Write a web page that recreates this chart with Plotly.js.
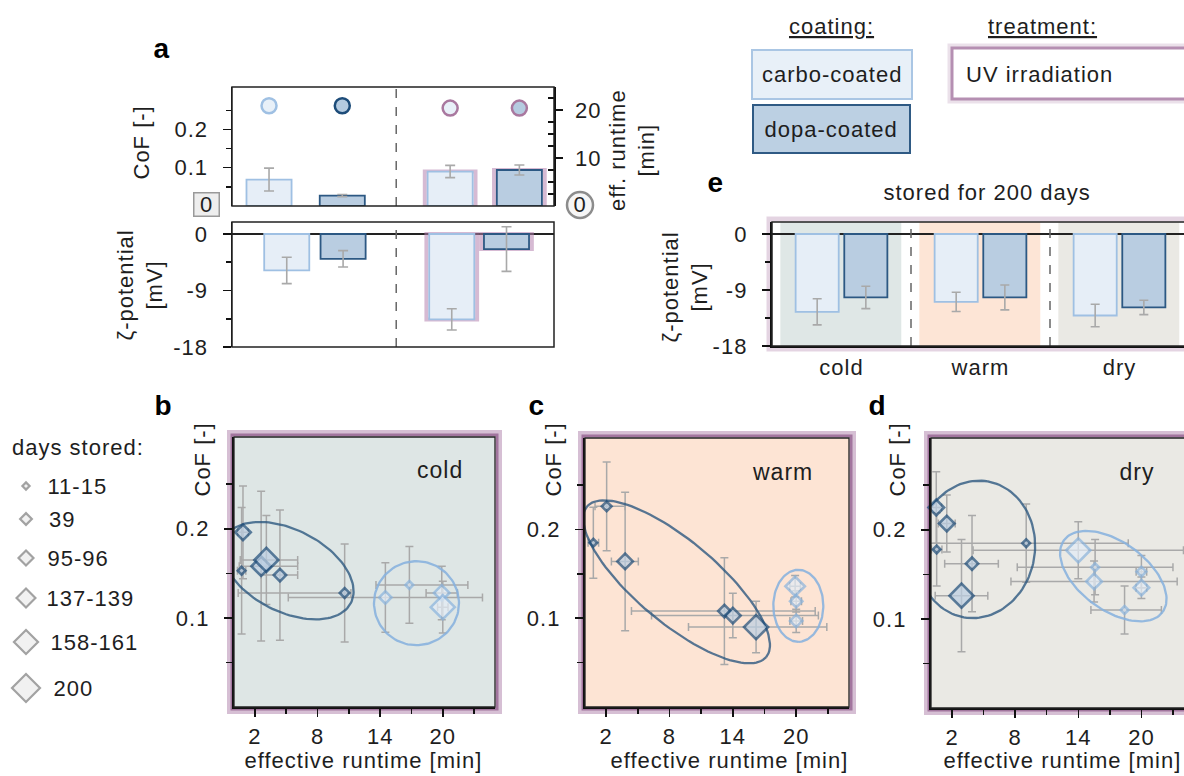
<!DOCTYPE html>
<html><head><meta charset="utf-8">
<script src="https://cdn.plot.ly/plotly-3.0.1.min.js"></script>
<style>
html,body{margin:0;padding:0;overflow:hidden;background:#fff;}
#chart{width:1240px;height:776px;}
.main-svg text{letter-spacing:1px;}
</style></head><body><div id="chart"></div>
<script>
// ================= DATA =================
// Panel a (fresh samples)
const aGroups   = ['carbo-coated', 'dopa-coated', 'carbo-coated + UV', 'dopa-coated + UV'];
const aCoating  = ['carbo', 'dopa', 'carbo', 'dopa'];
const aUV       = [0, 0, 1, 1];
const aCoF      = [0.069, 0.027, 0.090, 0.094];
const aCoFErr   = [0.030, 0.003, 0.016, 0.013];
const aRuntime  = [20.9, 20.9, 20.4, 20.4];
const aZeta     = [-5.8, -3.95, -13.6, -2.4];
const aZetaErr  = [2.1, 1.3, 1.7, 3.55];

// Panel e (stored for 200 days)
const eConditions = ['cold', 'warm', 'dry'];
const eCarboZeta  = [-12.5, -10.9, -13.1];
const eCarboErr   = [2.1, 1.55, 1.8];
const eDopaZeta   = [-10.2, -10.2, -11.8];
const eDopaErr    = [1.8, 2.0, 1.15];

// days stored categories
const daysLabels = ['11-15', '39', '95-96', '137-139', '158-161', '200'];

// Panel b (cold)
const coldDopaRt         = [0.73, 10.6, 4.4, 0.86, 2.6, 3.1];
const coldDopaCoF        = [0.153, 0.128, 0.148, 0.196, 0.158, 0.165];
const coldDopaRtErrPlus  = [0.4, 0.6, 1.7, 0.5, 3.5, 3.0];
const coldDopaRtErrMinus = [0.4, 10.2, 1.8, 0.5, 2.1, 2.5];
const coldDopaCoFErr     = [0.071, 0.055, 0.073, 0.052, 0.084, 0.050];
const coldDopaDay        = [0, 1, 2, 3, 4, 5];
const coldCarboRt         = [16.8, 14.5, 19.9, 20.0];
const coldCarboCoF        = [0.137, 0.123, 0.128, 0.112];
const coldCarboRtErrPlus  = [5.6, 9.3, 1.5, 0.5];
const coldCarboRtErrMinus = [3.2, 9.3, 1.5, 0.5];
const coldCarboCoFErr     = [0.043, 0.039, 0.030, 0.029];
const coldCarboDay        = [0, 2, 3, 5];

// Panel c (warm)
const warmDopaRt         = [0.79, 2.05, 3.8, 13.2, 14.0, 16.2];
const warmDopaCoF        = [0.185, 0.226, 0.164, 0.108, 0.103, 0.090];
const warmDopaRtErrPlus  = [0.5, 1.75, 1.25, 8.6, 8.1, 6.7];
const warmDopaRtErrMinus = [0.5, 1.1, 1.3, 8.8, 7.7, 6.4];
const warmDopaCoFErr     = [0.040, 0.050, 0.078, 0.060, 0.025, 0.029];
const warmDopaDay        = [0, 1, 3, 2, 3, 5];
const warmCarboRt         = [19.9, 20.0, 20.0];
const warmCarboCoF        = [0.136, 0.119, 0.097];
const warmCarboRtErrPlus  = [0.5, 0.5, 0.6];
const warmCarboRtErrMinus = [0.5, 0.5, 0.6];
const warmCarboCoFErr     = [0.012, 0.012, 0.013];
const warmCarboDay        = [4, 2, 2];

// Panel d (dry)
const dryDopaRt         = [0.5, 1.5, 0.54, 2.9, 3.9, 9.05];
const dryDopaCoF        = [0.225, 0.207, 0.178, 0.126, 0.162, 0.185];
const dryDopaRtErrPlus  = [0.5, 0.8, 0.5, 2.5, 2.5, 9.7];
const dryDopaRtErrMinus = [0.5, 0.8, 0.5, 2.5, 2.6, 9.5];
const dryDopaCoFErr     = [0.040, 0.032, 0.041, 0.063, 0.054, 0.044];
const dryDopaDay        = [3, 3, 0, 5, 2, 0];
const dryCarboRt         = [14.0, 15.6, 15.5, 20.0, 20.0, 18.4];
const dryCarboCoF        = [0.177, 0.158, 0.142, 0.153, 0.135, 0.110];
const dryCarboRtErrPlus  = [10.0, 7.4, 7.9, 0.5, 0.5, 3.5];
const dryCarboRtErrMinus = [10.0, 7.4, 7.9, 0.5, 0.5, 3.2];
const dryCarboCoFErr     = [0.032, 0.031, 0.023, 0.018, 0.012, 0.027];
const dryCarboDay        = [5, 0, 3, 1, 3, 0];

// ================= LAYOUT / STYLE =================
const W = 1240, H = 776;
const FONT = 'Liberation Sans, Arial, Helvetica, sans-serif';
const TXT = '#1e1e1e';
const FILL = {carbo: '#e6eef7', dopa: '#b9cde1'};
const LINE = {carbo: '#9fc0e3', dopa: '#2c5883'};
const DFILL = {carbo: '#e4edf7', dopa: '#bccfe3'};
const DLINE = {carbo: '#8ab4de', dopa: '#1d4c79'};
const UV_LINE = '#a9789f';
const UV_GLOW = 'rgba(180,130,175,0.55)';
const ERR = '#a9a9a9';
const DAY_SIZE = [6, 7.5, 9.5, 12, 15, 18.5];
const LEG_SIZE = [5.5, 9, 11.5, 14.5, 18.5, 21.5];
const LEG_ROW_Y = [486, 519, 558, 598, 642, 688];
const LEG_TXT_X = [48, 48, 48, 48, 52, 53];

// slot positions of the 4 bars in panel a (axis units)
const aTopPos = [0.46, 1.37, 2.71, 3.57];
const aBotPos = [0.68, 1.38, 2.73, 3.41];
const BAR_W = 0.56;

const dX = (a, b) => [a / W, b / W];
const dY = (t, b) => [1 - b / H, 1 - t / H];

function ann(text, x, y, o) {
  return Object.assign({text, x: x / W, y: 1 - y / H, xref: 'paper', yref: 'paper', showarrow: false,
    xanchor: 'center', yanchor: 'middle', font: {family: FONT, size: 22, color: TXT}}, o || {});
}
function pxRect(x0, y0, x1, y1, st) {
  return Object.assign({type: 'rect', xref: 'paper', yref: 'paper', x0: x0 / W, x1: x1 / W, y0: 1 - y1 / H, y1: 1 - y0 / H}, st);
}
function ax(extra) {
  return Object.assign({showgrid: false, zeroline: false, showline: false, ticks: '', showticklabels: false,
    fixedrange: true, tickfont: {family: FONT, size: 22, color: TXT}}, extra);
}
function tickAx(extra) {
  return ax(Object.assign({showline: true, linecolor: '#111', linewidth: 1.5, ticks: 'outside', ticklen: 8,
    tickwidth: 1.5, tickcolor: '#111', tickmode: 'array', showticklabels: true, ticklabelstandoff: 10}, extra));
}

const data = [];
const shapes = [];
const annotations = [];

// ---------- Panel a, top ----------
const uvIdx = aUV.map((u, i) => u ? i : -1).filter(i => i >= 0);
data.push({type: 'bar', x: uvIdx.map(i => aTopPos[i]), y: uvIdx.map(i => aCoF[i]), width: BAR_W + 0.07,
  marker: {color: 'rgba(0,0,0,0)', line: {color: UV_GLOW, width: 4}}, xaxis: 'x', yaxis: 'y', hoverinfo: 'skip'});
data.push({type: 'bar', x: aTopPos, y: aCoF, width: BAR_W, text: aGroups, textposition: 'none',
  marker: {color: aCoating.map(c => FILL[c]), line: {color: aCoating.map(c => LINE[c]), width: 1.8}},
  error_y: {type: 'data', array: aCoFErr, color: ERR, thickness: 1.6, width: 5}, xaxis: 'x', yaxis: 'y'});
data.push({type: 'scatter', mode: 'markers', x: aTopPos, y: aRuntime, xaxis: 'x', yaxis: 'y2', cliponaxis: false,
  marker: {symbol: 'circle', size: 15, color: aCoating.map(c => c === 'dopa' ? '#b5cbe0' : '#e8f0f8'),
    line: {color: aCoating.map((c, i) => aUV[i] ? UV_LINE : (c === 'dopa' ? '#1d4c79' : '#9fc0e3')), width: 2.5}}});

// ---------- Panel a, bottom ----------
data.push({type: 'bar', x: uvIdx.map(i => aBotPos[i]), y: uvIdx.map(i => aZeta[i]), width: BAR_W + 0.07,
  marker: {color: 'rgba(0,0,0,0)', line: {color: UV_GLOW, width: 4}}, xaxis: 'x3', yaxis: 'y3', hoverinfo: 'skip'});
data.push({type: 'bar', x: aBotPos, y: aZeta, width: BAR_W,
  marker: {color: aCoating.map(c => FILL[c]), line: {color: aCoating.map(c => LINE[c]), width: 1.8}},
  error_y: {type: 'data', array: aZetaErr, color: ERR, thickness: 1.6, width: 5}, xaxis: 'x3', yaxis: 'y3'});

// ---------- Panel e ----------
const eX = eConditions.map((c, i) => i);
data.push({type: 'bar', x: eX, y: eCarboZeta, width: 0.31, offset: -0.33, xaxis: 'x4', yaxis: 'y4',
  marker: {color: FILL.carbo, line: {color: LINE.carbo, width: 1.8}},
  error_y: {type: 'data', array: eCarboErr, color: ERR, thickness: 1.6, width: 4.5}});
data.push({type: 'bar', x: eX, y: eDopaZeta, width: 0.31, offset: 0.02, xaxis: 'x4', yaxis: 'y4',
  marker: {color: FILL.dopa, line: {color: LINE.dopa, width: 1.8}},
  error_y: {type: 'data', array: eDopaErr, color: ERR, thickness: 1.6, width: 4.5}});

// ---------- Panels b, c, d ----------
const XR = [0, 25], YR = [0, 0.303];
const panels = [
  {name: 'cold', xa: 'x5', ya: 'y5', xd: [234, 495], yd: [437, 707], bg: '#dee6e5', letter: ['b', 163, 405],
   label: [440, 470], cof: [202, 460], xt: 363,
   dopa: [coldDopaRt, coldDopaCoF, coldDopaRtErrPlus, coldDopaRtErrMinus, coldDopaCoFErr, coldDopaDay],
   carbo: [coldCarboRt, coldCarboCoF, coldCarboRtErrPlus, coldCarboRtErrMinus, coldCarboCoFErr, coldCarboDay],
   ell: {dopa: {cx: 5.14, cy: 0.153, a: 71, b: 41, ang: 27}, carbo: {cx: 17.48, cy: 0.1165, a: 42.5, b: 42, ang: 0}}},
  {name: 'warm', xa: 'x6', ya: 'y6', xd: [585, 849], yd: [438, 707], bg: '#fde4d4', letter: ['c', 537, 405],
   label: [782, 472], cof: [553, 460], xt: 729,
   dopa: [warmDopaRt, warmDopaCoF, warmDopaRtErrPlus, warmDopaRtErrMinus, warmDopaCoFErr, warmDopaDay],
   carbo: [warmCarboRt, warmCarboCoF, warmCarboRtErrPlus, warmCarboRtErrMinus, warmCarboCoFErr, warmCarboDay],
   ell: {dopa: {cx: 8.67, cy: 0.141, a: 117, b: 41, ang: 40}, carbo: {cx: 20.2, cy: 0.114, a: 36, b: 25, ang: 90}}},
  {name: 'dry', xa: 'x7', ya: 'y7', xd: [931, 1194], yd: [438, 708], bg: '#eae9e4', letter: ['d', 878, 405],
   label: [1137, 472], cof: [897, 460], xt: 1062,
   dopa: [dryDopaRt, dryDopaCoF, dryDopaRtErrPlus, dryDopaRtErrMinus, dryDopaCoFErr, dryDopaDay],
   carbo: [dryCarboRt, dryCarboCoF, dryCarboRtErrPlus, dryCarboRtErrMinus, dryCarboCoFErr, dryCarboDay],
   ell: {dopa: {cx: 4.26, cy: 0.178, a: 69, b: 59, ang: -80}, carbo: {cx: 17.33, cy: 0.148, a: 61, b: 34, ang: 36}}}
];

function ellipsePts(e, sx, sy) {
  const xs = [], ys = [], th = e.ang * Math.PI / 180;
  for (let i = 0; i <= 120; i++) {
    const p = 2 * Math.PI * i / 120;
    const dxp = e.a * Math.cos(p) * Math.cos(th) - e.b * Math.sin(p) * Math.sin(th);
    const dyp = e.a * Math.cos(p) * Math.sin(th) + e.b * Math.sin(p) * Math.cos(th);
    xs.push(e.cx + dxp / sx); ys.push(e.cy - dyp / sy);
  }
  return [xs, ys];
}

const layoutAxes = {};
panels.forEach((P, k) => {
  const sx = (P.xd[1] - P.xd[0]) / (XR[1] - XR[0]);
  const sy = (P.yd[1] - P.yd[0]) / (YR[1] - YR[0]);
  ['carbo', 'dopa'].forEach(s => {
    const d = P[s];
    data.push({type: 'scatter', mode: 'markers', x: d[0], y: d[1], xaxis: P.xa, yaxis: P.ya,
      marker: {size: 1, color: 'rgba(0,0,0,0)'}, cliponaxis: false,
      error_x: {type: 'data', symmetric: false, array: d[2], arrayminus: d[3], color: ERR, thickness: 1.5, width: 4},
      error_y: {type: 'data', array: d[4], color: ERR, thickness: 1.5, width: 4}});
  });
  ['carbo', 'dopa'].forEach(s => {
    const [xs, ys] = ellipsePts(P.ell[s], sx, sy);
    data.push({type: 'scatter', mode: 'lines', x: xs, y: ys, xaxis: P.xa, yaxis: P.ya, hoverinfo: 'skip',
      line: {color: s === 'dopa' ? 'rgba(40,85,125,0.78)' : 'rgba(135,178,222,0.88)', width: 2.3}});
  });
  ['carbo', 'dopa'].forEach(s => {
    const d = P[s];
    data.push({type: 'scatter', mode: 'markers', x: d[0], y: d[1], xaxis: P.xa, yaxis: P.ya, cliponaxis: false,
      text: d[5].map(i => daysLabels[i] + ' days'),
      marker: {symbol: 'diamond', size: d[5].map(i => DAY_SIZE[i]), color: DFILL[s], line: {color: DLINE[s], width: 2.6}}});
  });
  const xn = P.xa.slice(1), yn = P.ya.slice(1);
  layoutAxes['xaxis' + xn] = tickAx({domain: dX(P.xd[0], P.xd[1]), range: XR, anchor: P.ya, linewidth: 2.2,
    tickvals: [2, 8, 14, 20], ticktext: ['2', '8', '14', '20'], ticklabelstandoff: 0,
    minor: {tickmode: 'array', tickvals: [5, 11, 17, 23], ticks: 'outside', ticklen: 5, tickwidth: 1.5, tickcolor: '#111'}});
  layoutAxes['yaxis' + yn] = tickAx({domain: dY(P.yd[0], P.yd[1]), range: YR, anchor: P.xa, linewidth: 2.2,
    tickvals: [0.1, 0.2], ticktext: ['0.1', '0.2'],
    minor: {tickmode: 'array', tickvals: [0.05, 0.15, 0.25], ticks: 'outside', ticklen: 6, tickwidth: 1.5, tickcolor: '#111'}});
  shapes.push({type: 'rect', xref: P.xa + ' domain', yref: P.ya + ' domain', x0: 0, x1: 1, y0: 0, y1: 1,
    fillcolor: P.bg, line: {width: 0}, layer: 'below'});
  shapes.push(pxRect(P.xd[0] - 4, P.yd[0] - 4, P.xd[1] + 4, P.yd[1] + 4, {line: {color: 'rgba(165,112,160,0.45)', width: 6}, layer: 'below'}));
  shapes.push(pxRect(P.xd[0] - 2, P.yd[0] - 2, P.xd[1] + 2, P.yd[1] + 2, {line: {color: 'rgba(140,85,135,0.7)', width: 3}, layer: 'below'}));
  shapes.push({type: 'rect', xref: P.xa + ' domain', yref: P.ya + ' domain', x0: 0, x1: 1, y0: 0, y1: 1,
    line: {color: '#222', width: 1.3}, layer: 'above'});
  annotations.push(ann('<b>' + P.letter[0] + '</b>', P.letter[1], P.letter[2], {font: {family: FONT, size: 28, color: '#000'}}));
  annotations.push(ann(P.name, P.label[0], P.label[1], {font: {family: FONT, size: 23, color: TXT}}));
  annotations.push(ann('CoF [-]', P.cof[0], P.cof[1], {textangle: -90}));
  annotations.push(ann('effective runtime [min]', P.xt, 775, {yanchor: 'bottom'}));
});

// ---------- days stored legend ----------
data.push({type: 'scatter', mode: 'markers', x: daysLabels.map(() => 26), y: LEG_ROW_Y, xaxis: 'x8', yaxis: 'y8',
  cliponaxis: false, marker: {symbol: 'diamond', size: LEG_SIZE, color: '#ececec', line: {color: '#7c7c7c', width: 2.2}}});
annotations.push(ann('days stored:', 16, 448, {xanchor: 'left'}));
daysLabels.forEach((d, i) => annotations.push(ann(d, LEG_TXT_X[i], LEG_ROW_Y[i], {xanchor: 'left'})));

// ---------- panel a / e shapes ----------
const aSep = (aTopPos[1] + aTopPos[2]) / 2;
shapes.push({type: 'line', xref: 'x', yref: 'y domain', x0: aSep, x1: aSep, y0: 0, y1: 1, line: {color: '#666', width: 1.5, dash: 'dash'}});
shapes.push({type: 'line', xref: 'x3', yref: 'y3 domain', x0: aSep, x1: aSep, y0: 0, y1: 1, line: {color: '#666', width: 1.5, dash: 'dash'}});
shapes.push({type: 'rect', xref: 'x domain', yref: 'y domain', x0: 0, x1: 1, y0: 0, y1: 1, line: {color: '#222', width: 1.5}, layer: 'above'});
shapes.push({type: 'rect', xref: 'x3 domain', yref: 'y3 domain', x0: 0, x1: 1, y0: 0, y1: 1, line: {color: '#222', width: 1.5}, layer: 'above'});

const eBg = ['#dfe7e6', '#fde5d6', '#eae9e4'];
eConditions.forEach((c, i) => shapes.push({type: 'rect', xref: 'x4', yref: 'y4 domain', x0: i - 0.44, x1: i + 0.43, y0: 0, y1: 1,
  fillcolor: eBg[i], line: {width: 0}, layer: 'below'}));
[0.5, 1.5].forEach(v => shapes.push({type: 'line', xref: 'x4', yref: 'y4 domain', x0: v, x1: v, y0: 0, y1: 1,
  line: {color: '#666', width: 1.5, dash: 'dash'}}));
shapes.push(pxRect(769, 219, 1192, 349, {line: {color: 'rgba(195,160,190,0.45)', width: 5}, layer: 'below'}));
shapes.push({type: 'rect', xref: 'x4 domain', yref: 'y4 domain', x0: 0, x1: 1, y0: 0, y1: 1, line: {color: '#222', width: 1.5}, layer: 'above'});

// ---------- legend boxes top right ----------
shapes.push(pxRect(752, 50, 912, 99, {fillcolor: '#e8f0f8', line: {color: '#aac6e4', width: 2}}));
shapes.push(pxRect(753, 105, 910, 153, {fillcolor: '#bcd0e3', line: {color: '#2f5a84', width: 2}}));
shapes.push(pxRect(950, 46, 1200, 101, {line: {color: 'rgba(190,155,185,0.3)', width: 5}}));
shapes.push(pxRect(952, 48, 1198, 99, {fillcolor: '#ffffff', line: {color: '#b58fb2', width: 3}}));
annotations.push(ann('<u>coating:</u>', 831, 27));
annotations.push(ann('<u>treatment:</u>', 1042, 27));
annotations.push(ann('carbo-coated', 832, 75));
annotations.push(ann('dopa-coated', 831, 130));
annotations.push(ann('UV irradiation', 1039, 75));

// ---------- panel a / e texts ----------
annotations.push(ann('<b>a</b>', 162, 48, {font: {family: FONT, size: 28, color: '#000'}}));
annotations.push(ann('<b>e</b>', 716, 182, {font: {family: FONT, size: 28, color: '#000'}}));
annotations.push(ann('CoF [-]', 141, 143, {textangle: -90}));
annotations.push(ann('ζ-potential<br>[mV]', 140, 285, {textangle: -90}));
annotations.push(ann('ζ-potential<br>[mV]', 685, 287, {textangle: -90}));
annotations.push(ann('eff. runtime<br>[min]', 632, 150, {textangle: -90}));
annotations.push(ann('stored for 200 days', 987, 192));
annotations.push(ann('0', 206, 205, {bgcolor: '#eeeeee', bordercolor: '#9a9a9a', borderwidth: 1.5, borderpad: 0, width: 24, height: 22}));
shapes.push(pxRect(567, 192, 593, 218, {type: 'circle', fillcolor: '#f6f6f6', line: {color: '#8c8c8c', width: 2.5}}));
annotations.push(ann('0', 580, 205));

const layout = Object.assign({
  width: W, height: H, margin: {l: 0, r: 0, t: 0, b: 0, pad: 0},
  paper_bgcolor: '#ffffff', plot_bgcolor: 'rgba(0,0,0,0)', showlegend: false, barmode: 'overlay',
  font: {family: FONT, size: 22, color: TXT},
  xaxis: ax({domain: dX(232, 554), range: [0, 4], anchor: 'y'}),
  yaxis: tickAx({domain: dY(87, 206), range: [0, 0.3107], anchor: 'x', tickvals: [0.1, 0.2], ticktext: ['0.1', '0.2'],
    minor: {tickmode: 'array', tickvals: [0.05, 0.15, 0.25], ticks: 'outside', ticklen: 5, tickwidth: 1.5, tickcolor: '#111'}}),
  yaxis2: tickAx({overlaying: 'y', side: 'right', anchor: 'x', range: [0, 24.8], tickvals: [10, 20], ticktext: ['10', '20'],
    ticklen: 7, ticklabelstandoff: 8,
    minor: {tickmode: 'array', tickvals: [2.5, 5, 7.5, 12.5, 15, 17.5, 22.5], ticks: 'inside', ticklen: 6, tickwidth: 1.5, tickcolor: '#111'}}),
  xaxis3: ax({domain: dX(232, 554), range: [0, 4], anchor: 'y3'}),
  yaxis3: tickAx({domain: dY(222, 347), range: [-18, 1.91], anchor: 'x3', tickvals: [0, -9, -18], ticktext: ['0', '-9', '-18'],
    zeroline: true, zerolinecolor: '#222', zerolinewidth: 1.2,
    minor: {tickmode: 'array', tickvals: [-4.5, -13.5], ticks: 'outside', ticklen: 5, tickwidth: 1.5, tickcolor: '#111'}}),
  xaxis4: ax({domain: dX(772, 1189), range: [-0.5, 2.5], anchor: 'y4', showline: true, linecolor: '#111', linewidth: 2.2,
    tickmode: 'array', tickvals: eX, ticktext: eConditions, showticklabels: true, ticklabelstandoff: 0}),
  yaxis4: tickAx({domain: dY(222, 346), range: [-18, 1.93], anchor: 'x4', linewidth: 2.2, tickvals: [0, -9, -18], ticktext: ['0', '-9', '-18'],
    zeroline: true, zerolinecolor: '#222', zerolinewidth: 1.2,
    minor: {tickmode: 'array', tickvals: [-4.5, -13.5], ticks: 'outside', ticklen: 5, tickwidth: 1.5, tickcolor: '#111'}}),
  xaxis8: ax({domain: dX(0, 170), range: [0, 170], anchor: 'y8'}),
  yaxis8: ax({domain: dY(430, 710), range: [710, 430], anchor: 'x8'}),
  shapes, annotations
}, layoutAxes);

Plotly.newPlot('chart', data, layout, {staticPlot: true, displayModeBar: false});
</script></body></html>
